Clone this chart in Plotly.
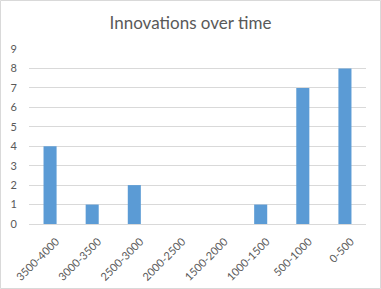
import plotly.graph_objects as go

categories = ["3500-4000", "3000-3500", "2500-3000", "2000-2500", "1500-2000", "1000-1500", "500-1000", "0-500"]
innovations = [4, 1, 2, 0, 0, 1, 7, 8]
title_text = "Innovations over time"

W, H = 381, 289
ml, mr, mt, mb = 29, 15, 49, 65
pw, ph = W - ml - mr, H - mt - mb

fig = go.Figure(go.Bar(x=categories, y=innovations, marker_color="#5B9BD5", marker_line_width=0))

font_family = "Lato, 'Open Sans', sans-serif"
fig.update_layout(
    width=W, height=H,
    margin=dict(l=ml, r=mr, t=mt, b=mb),
    paper_bgcolor="white", plot_bgcolor="white",
    bargap=0.69,
    showlegend=False,
    title=dict(text=title_text, x=0.5, xanchor="center", y=1 - 23 / H, yanchor="middle",
               font=dict(family=font_family, size=17, color="#595959")),
    font=dict(family=font_family, size=11, color="#595959"),
    xaxis=dict(tickangle=-45, showgrid=False, showline=True, linecolor="#D9D9D9", linewidth=1,
               automargin=False,
               ticks="", ticklabelstandoff=6, ticklabelshift=6,
               tickfont=dict(size=11, color="#595959")),
    yaxis=dict(range=[0, 9], dtick=1, showgrid=True, gridcolor="#D9D9D9", gridwidth=1,
               automargin=False,
               zeroline=False, showline=False, ticks="", ticklabelstandoff=11,
               tickfont=dict(size=11, color="#595959")),
    shapes=[dict(type="rect", xref="paper", yref="paper",
                 x0=-(ml - 0.5) / pw, x1=1 + (mr - 0.5) / pw,
                 y0=-(mb - 0.5) / ph, y1=1 + (mt - 0.5) / ph,
                 line=dict(color="#D9D9D9", width=1), layer="below")],
)

fig.write_html("out.html")
